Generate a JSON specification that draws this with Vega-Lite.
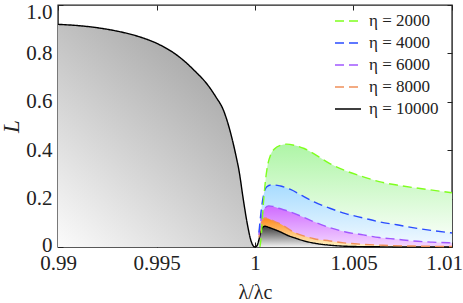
{
  "$schema": "https://vega.github.io/schema/vega-lite/v6.json",
  "autosize": "none",
  "width": 394,
  "height": 242,
  "padding": {"left": 58, "top": 5, "right": 11, "bottom": 56},
  "background": "white",
  "data": {"values": [
    {"eta": "η = 10000", "lam": 0.99, "L": 0.92},
    {"eta": "η = 10000", "lam": 0.991, "L": 0.915},
    {"eta": "η = 10000", "lam": 0.992, "L": 0.906},
    {"eta": "η = 10000", "lam": 0.993, "L": 0.892},
    {"eta": "η = 10000", "lam": 0.994, "L": 0.872},
    {"eta": "η = 10000", "lam": 0.995, "L": 0.842},
    {"eta": "η = 10000", "lam": 0.9955, "L": 0.821},
    {"eta": "η = 10000", "lam": 0.996, "L": 0.795},
    {"eta": "η = 10000", "lam": 0.9965, "L": 0.762},
    {"eta": "η = 10000", "lam": 0.997, "L": 0.723},
    {"eta": "η = 10000", "lam": 0.9975, "L": 0.68},
    {"eta": "η = 10000", "lam": 0.998, "L": 0.622},
    {"eta": "η = 10000", "lam": 0.9984, "L": 0.565},
    {"eta": "η = 10000", "lam": 0.9987, "L": 0.49},
    {"eta": "η = 10000", "lam": 0.999, "L": 0.39},
    {"eta": "η = 10000", "lam": 0.9992, "L": 0.31},
    {"eta": "η = 10000", "lam": 0.9994, "L": 0.2},
    {"eta": "η = 10000", "lam": 0.9996, "L": 0.1},
    {"eta": "η = 10000", "lam": 0.9998, "L": 0.025},
    {"eta": "η = 10000", "lam": 0.9999, "L": 0.006},
    {"eta": "η = 10000", "lam": 1.0, "L": 0.0},
    {"eta": "η = 10000", "lam": 1.0001, "L": 0.005},
    {"eta": "η = 10000", "lam": 1.0002, "L": 0.03},
    {"eta": "η = 10000", "lam": 1.0003, "L": 0.065},
    {"eta": "η = 10000", "lam": 1.0004, "L": 0.082},
    {"eta": "η = 10000", "lam": 1.0005, "L": 0.086},
    {"eta": "η = 10000", "lam": 1.0007, "L": 0.081},
    {"eta": "η = 10000", "lam": 1.001, "L": 0.072},
    {"eta": "η = 10000", "lam": 1.0013, "L": 0.062},
    {"eta": "η = 10000", "lam": 1.0016, "L": 0.05},
    {"eta": "η = 10000", "lam": 1.002, "L": 0.038},
    {"eta": "η = 10000", "lam": 1.0025, "L": 0.025},
    {"eta": "η = 10000", "lam": 1.003, "L": 0.016},
    {"eta": "η = 10000", "lam": 1.0035, "L": 0.01},
    {"eta": "η = 10000", "lam": 1.004, "L": 0.006},
    {"eta": "η = 10000", "lam": 1.005, "L": 0.002},
    {"eta": "η = 10000", "lam": 1.006, "L": 0.001},
    {"eta": "η = 10000", "lam": 1.008, "L": 0.0},
    {"eta": "η = 10000", "lam": 1.01, "L": 0.0},

    {"eta": "η = 8000", "lam": 1.0002, "L": 0.04},
    {"eta": "η = 8000", "lam": 1.0003, "L": 0.09},
    {"eta": "η = 8000", "lam": 1.0004, "L": 0.113},
    {"eta": "η = 8000", "lam": 1.0005, "L": 0.12},
    {"eta": "η = 8000", "lam": 1.0006, "L": 0.119},
    {"eta": "η = 8000", "lam": 1.0008, "L": 0.113},
    {"eta": "η = 8000", "lam": 1.001, "L": 0.105},
    {"eta": "η = 8000", "lam": 1.0013, "L": 0.095},
    {"eta": "η = 8000", "lam": 1.0016, "L": 0.08},
    {"eta": "η = 8000", "lam": 1.002, "L": 0.06},
    {"eta": "η = 8000", "lam": 1.0025, "L": 0.045},
    {"eta": "η = 8000", "lam": 1.003, "L": 0.034},
    {"eta": "η = 8000", "lam": 1.0038, "L": 0.025},
    {"eta": "η = 8000", "lam": 1.0045, "L": 0.017},
    {"eta": "η = 8000", "lam": 1.0055, "L": 0.011},
    {"eta": "η = 8000", "lam": 1.0065, "L": 0.007},
    {"eta": "η = 8000", "lam": 1.008, "L": 0.004},
    {"eta": "η = 8000", "lam": 1.01, "L": 0.002},

    {"eta": "η = 6000", "lam": 1.0002, "L": 0.05},
    {"eta": "η = 6000", "lam": 1.0003, "L": 0.11},
    {"eta": "η = 6000", "lam": 1.0004, "L": 0.145},
    {"eta": "η = 6000", "lam": 1.0005, "L": 0.16},
    {"eta": "η = 6000", "lam": 1.0007, "L": 0.17},
    {"eta": "η = 6000", "lam": 1.0009, "L": 0.168},
    {"eta": "η = 6000", "lam": 1.0012, "L": 0.16},
    {"eta": "η = 6000", "lam": 1.0018, "L": 0.145},
    {"eta": "η = 6000", "lam": 1.0024, "L": 0.125},
    {"eta": "η = 6000", "lam": 1.003, "L": 0.104},
    {"eta": "η = 6000", "lam": 1.0038, "L": 0.08},
    {"eta": "η = 6000", "lam": 1.0046, "L": 0.062},
    {"eta": "η = 6000", "lam": 1.0055, "L": 0.05},
    {"eta": "η = 6000", "lam": 1.0063, "L": 0.039},
    {"eta": "η = 6000", "lam": 1.0072, "L": 0.032},
    {"eta": "η = 6000", "lam": 1.008, "L": 0.025},
    {"eta": "η = 6000", "lam": 1.009, "L": 0.02},
    {"eta": "η = 6000", "lam": 1.01, "L": 0.017},

    {"eta": "η = 4000", "lam": 1.0002, "L": 0.06},
    {"eta": "η = 4000", "lam": 1.0003, "L": 0.14},
    {"eta": "η = 4000", "lam": 1.0004, "L": 0.2},
    {"eta": "η = 4000", "lam": 1.0005, "L": 0.235},
    {"eta": "η = 4000", "lam": 1.0006, "L": 0.249},
    {"eta": "η = 4000", "lam": 1.0008, "L": 0.256},
    {"eta": "η = 4000", "lam": 1.001, "L": 0.256},
    {"eta": "η = 4000", "lam": 1.0013, "L": 0.252},
    {"eta": "η = 4000", "lam": 1.0018, "L": 0.238},
    {"eta": "η = 4000", "lam": 1.0024, "L": 0.212},
    {"eta": "η = 4000", "lam": 1.003, "L": 0.186},
    {"eta": "η = 4000", "lam": 1.0038, "L": 0.16},
    {"eta": "η = 4000", "lam": 1.0046, "L": 0.138},
    {"eta": "η = 4000", "lam": 1.0055, "L": 0.12},
    {"eta": "η = 4000", "lam": 1.0063, "L": 0.104},
    {"eta": "η = 4000", "lam": 1.0072, "L": 0.092},
    {"eta": "η = 4000", "lam": 1.008, "L": 0.08},
    {"eta": "η = 4000", "lam": 1.009, "L": 0.068},
    {"eta": "η = 4000", "lam": 1.01, "L": 0.058},

    {"eta": "η = 2000", "lam": 1.00025, "L": 0.0},
    {"eta": "η = 2000", "lam": 1.0003, "L": 0.03},
    {"eta": "η = 2000", "lam": 1.00037, "L": 0.11},
    {"eta": "η = 2000", "lam": 1.0004, "L": 0.15},
    {"eta": "η = 2000", "lam": 1.0005, "L": 0.25},
    {"eta": "η = 2000", "lam": 1.0006, "L": 0.318},
    {"eta": "η = 2000", "lam": 1.0008, "L": 0.382},
    {"eta": "η = 2000", "lam": 1.001, "L": 0.406},
    {"eta": "η = 2000", "lam": 1.0013, "L": 0.42},
    {"eta": "η = 2000", "lam": 1.0016, "L": 0.425},
    {"eta": "η = 2000", "lam": 1.002, "L": 0.42},
    {"eta": "η = 2000", "lam": 1.0025, "L": 0.407},
    {"eta": "η = 2000", "lam": 1.003, "L": 0.385},
    {"eta": "η = 2000", "lam": 1.0038, "L": 0.345},
    {"eta": "η = 2000", "lam": 1.0046, "L": 0.315},
    {"eta": "η = 2000", "lam": 1.0055, "L": 0.29},
    {"eta": "η = 2000", "lam": 1.0063, "L": 0.27},
    {"eta": "η = 2000", "lam": 1.0072, "L": 0.256},
    {"eta": "η = 2000", "lam": 1.008, "L": 0.246},
    {"eta": "η = 2000", "lam": 1.009, "L": 0.235},
    {"eta": "η = 2000", "lam": 1.01, "L": 0.224}
  ]},
  "layer": [
    {
      "transform": [{"filter": {"and": [{"field": "eta", "equal": "η = 10000"}, {"field": "lam", "lte": 1.0}]}}],
      "mark": {"type": "area", "interpolate": "monotone", "color": {"gradient": "linear", "x1": 0, "y1": 1, "x2": 0.7, "y2": 0.1, "stops": [{"offset": 0, "color": "#fbfbfb"}, {"offset": 1, "color": "#a8a8a8"}]}},
      "encoding": {
        "x": {"field": "lam", "type": "quantitative", "scale": {"domain": [0.99, 1.01], "nice": false, "zero": false},
              "axis": {"values": [0.99, 0.995, 1, 1.005, 1.01], "format": "~g", "title": "λ/λc", "labelFlush": false, "labelPadding": 10, "titlePadding": 9,
                       "labelOffset": {"condition": {"test": "datum.value > 1.009", "value": -8}, "value": 0}}},
        "y": {"field": "L", "type": "quantitative", "stack": null, "scale": {"domain": [0, 1], "nice": false},
              "axis": {"values": [0, 0.2, 0.4, 0.6, 0.8, 1.0], "labelExpr": "datum.value == 0 ? '0' : format(datum.value, '.1f')", "title": "L", "titleFontStyle": "italic", "titleFontSize": 23, "labelPadding": 11, "titlePadding": 2, "labelFlush": false,
                       "labelOffset": {"condition": [{"test": "datum.value > 0.99", "value": 7}, {"test": "datum.value < 0.01", "value": -2}], "value": 0}}}
      }
    },
    {
      "transform": [{"filter": {"field": "eta", "equal": "η = 2000"}}],
      "mark": {"type": "area", "interpolate": "monotone", "color": {"gradient": "linear", "x1": 0, "y1": 0, "x2": 0, "y2": 1, "stops": [{"offset": 0, "color": "#aef5a6"}, {"offset": 1, "color": "#ffffff"}]}},
      "encoding": {"x": {"field": "lam", "type": "quantitative", "axis": null}, "y": {"field": "L", "type": "quantitative", "stack": null, "axis": null}}
    },
    {
      "transform": [{"filter": {"field": "eta", "equal": "η = 4000"}}],
      "mark": {"type": "area", "interpolate": "monotone", "color": {"gradient": "linear", "x1": 0, "y1": 0, "x2": 0, "y2": 1, "stops": [{"offset": 0, "color": "#a8dcff"}, {"offset": 1, "color": "#f4faff"}]}},
      "encoding": {"x": {"field": "lam", "type": "quantitative", "axis": null}, "y": {"field": "L", "type": "quantitative", "stack": null, "axis": null}}
    },
    {
      "transform": [{"filter": {"field": "eta", "equal": "η = 6000"}}],
      "mark": {"type": "area", "interpolate": "monotone", "color": {"gradient": "linear", "x1": 0, "y1": 0, "x2": 0, "y2": 1, "stops": [{"offset": 0, "color": "#cf6bff"}, {"offset": 1, "color": "#f4d8ff"}]}},
      "encoding": {"x": {"field": "lam", "type": "quantitative", "axis": null}, "y": {"field": "L", "type": "quantitative", "stack": null, "axis": null}}
    },
    {
      "transform": [{"filter": {"field": "eta", "equal": "η = 8000"}}],
      "mark": {"type": "area", "interpolate": "monotone", "color": {"gradient": "linear", "x1": 0, "y1": 0, "x2": 0, "y2": 1, "stops": [{"offset": 0, "color": "#ff8a1c"}, {"offset": 1, "color": "#fff6c8"}]}},
      "encoding": {"x": {"field": "lam", "type": "quantitative", "axis": null}, "y": {"field": "L", "type": "quantitative", "stack": null, "axis": null}}
    },
    {
      "transform": [{"filter": {"and": [{"field": "eta", "equal": "η = 10000"}, {"field": "lam", "gte": 1.0}]}}],
      "mark": {"type": "area", "interpolate": "monotone", "color": {"gradient": "linear", "x1": 0, "y1": 0, "x2": 0, "y2": 1, "stops": [{"offset": 0, "color": "#3a3a3a"}, {"offset": 1, "color": "#f2f2f2"}]}},
      "encoding": {"x": {"field": "lam", "type": "quantitative", "axis": null}, "y": {"field": "L", "type": "quantitative", "stack": null, "axis": null}}
    },
    {
      "mark": {"type": "line", "interpolate": "monotone", "strokeWidth": 1.4},
      "encoding": {
        "x": {"field": "lam", "type": "quantitative", "axis": {"orient": "top", "values": [0.99, 0.995, 1, 1.005, 1.01], "labels": false, "title": null}},
        "y": {"field": "L", "type": "quantitative", "stack": null, "axis": {"orient": "right", "values": [0, 0.2, 0.4, 0.6, 0.8, 1.0], "labels": false, "title": null}},
        "color": {"field": "eta", "type": "nominal", "sort": null,
                  "scale": {"domain": ["η = 2000", "η = 4000", "η = 6000", "η = 8000", "η = 10000"], "range": ["#7fff1e", "#2a4cff", "#a158ff", "#f0905a", "#000000"]},
                  "legend": {"title": null, "orient": "none", "legendX": 276, "legendY": 2}},
        "strokeDash": {"field": "eta", "type": "nominal", "sort": null,
                  "scale": {"domain": ["η = 2000", "η = 4000", "η = 6000", "η = 8000", "η = 10000"], "range": [[9, 5], [9, 5], [9, 5], [9, 5], [1, 0]]},
                  "legend": {"title": null, "orient": "none", "legendX": 276, "legendY": 2}},
        "order": {"field": "lam", "type": "quantitative"}
      }
    }
  ],
  "resolve": {"axis": {"x": "independent", "y": "independent"}},
  "config": {
    "font": "Liberation Serif",
    "view": {"stroke": "#222", "strokeWidth": 1.4},
    "axis": {"labelFont": "Liberation Serif", "labelFontSize": 21, "labelColor": "#222", "titleFont": "Liberation Serif", "titleFontSize": 20, "titleColor": "#222", "titleFontWeight": "normal", "grid": false, "domain": false, "tickColor": "#222", "tickSize": -5, "tickWidth": 1},
    "legend": {"labelFont": "Liberation Serif", "labelFontSize": 17, "labelColor": "#222", "symbolType": "stroke", "symbolSize": 676, "symbolStrokeWidth": 1.5, "rowPadding": -7, "labelOffset": 7}
  }
}
